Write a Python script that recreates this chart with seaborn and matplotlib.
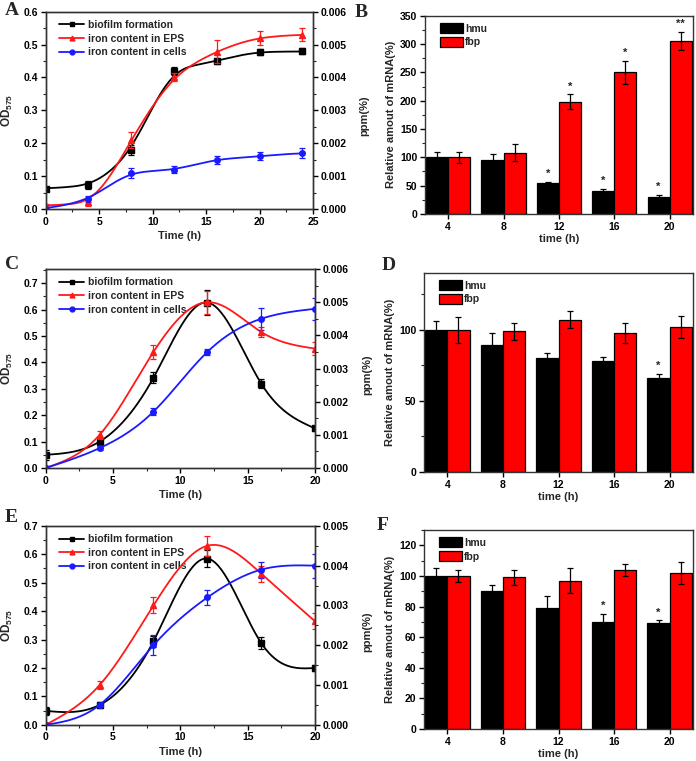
import numpy as np
import pandas as pd
import matplotlib
matplotlib.use("Agg")
import matplotlib.pyplot as plt
from matplotlib.lines import Line2D
from matplotlib.ticker import AutoMinorLocator, FormatStrFormatter
import seaborn as sns

# ---------------- data ----------------
# A
a_time = [0, 4, 8, 12, 16, 20, 24]
a_biofilm = [0.062, 0.073, 0.18, 0.42, 0.45, 0.477, 0.479]
a_biofilm_err = [0.004, 0.012, 0.015, 0.013, 0.01, 0.01, 0.009]
a_eps = [0.0001, 0.0002, 0.0021, 0.0040, 0.00478, 0.0052, 0.0053]
a_eps_err = [0.00005, 0.0001, 0.00025, 0.00012, 0.00035, 0.0002, 0.0002]
a_cells = [0.0, 0.0003, 0.0011, 0.0012, 0.0015, 0.0016, 0.0017]
a_cells_err = [0.00005, 0.0001, 0.00015, 0.0001, 0.00012, 0.00012, 0.00015]

# C
c_time = [0, 4, 8, 12, 16, 20]
c_biofilm = [0.05, 0.10, 0.342, 0.627, 0.32, 0.15]
c_biofilm_err = [0.02, 0.008, 0.02, 0.047, 0.018, 0.008]
c_eps = [0.0, 0.001, 0.0035, 0.005, 0.0041, 0.0036]
c_eps_err = [0.00005, 0.00012, 0.0002, 0.00035, 0.00015, 0.0002]
c_cells = [0.0, 0.0006, 0.0017, 0.0035, 0.0045, 0.0048]
c_cells_err = [0.00003, 0.00005, 0.0001, 0.0001, 0.00033, 0.00033]

# E
e_time = [0, 4, 8, 12, 16, 20]
e_biofilm = [0.049, 0.07, 0.294, 0.585, 0.288, 0.2]
e_biofilm_err = [0.015, 0.012, 0.02, 0.03, 0.02, 0.012]
e_eps = [0.0, 0.001, 0.003, 0.0045, 0.0038, 0.0026]
e_eps_err = [0.00005, 0.0001, 0.0002, 0.00025, 0.0002, 0.0002]
e_cells = [0.0, 0.0005, 0.002, 0.0032, 0.0039, 0.004]
e_cells_err = [0.00003, 0.00005, 0.00025, 0.0002, 0.0002, 0.0003]

# bar panels
bar_times = ["4", "8", "12", "16", "20"]
genes = ["hmu", "fbp"]

b_hmu = [100, 96, 55, 40, 30]
b_hmu_err = [9, 9, 2, 4, 4]
b_fbp = [100, 108, 198, 250, 305]
b_fbp_err = [10, 15, 13, 20, 16]
b_hmu_sig = ["", "", "*", "*", "*"]
b_fbp_sig = ["", "", "*", "*", "**"]

d_hmu = [100, 89, 80, 78, 66]
d_hmu_err = [6, 9, 4, 3, 3]
d_fbp = [100, 99, 107, 98, 102]
d_fbp_err = [9, 6, 6, 7, 8]
d_hmu_sig = ["", "", "", "", "*"]
d_fbp_sig = ["", "", "", "", ""]

f_hmu = [100, 90, 79, 70, 69]
f_hmu_err = [5, 4, 8, 5, 2]
f_fbp = [100, 99, 97, 104, 102]
f_fbp_err = [4, 5, 8, 4, 7]
f_hmu_sig = ["", "", "", "*", "*"]
f_fbp_sig = ["", "", "", "", ""]

series_names = ["biofilm formation", "iron content in EPS", "iron content in cells"]
series_colors = ["black", "#ff1a1a", "#1a1aff"]
series_markers = ["s", "^", "o"]

# ---------------- style ----------------
sns.set_style("ticks")
plt.rcParams["font.family"] = ["Liberation Sans", "DejaVu Sans"]
plt.rcParams["font.weight"] = "bold"
plt.rcParams["axes.labelweight"] = "bold"
plt.rcParams["mathtext.fontset"] = "custom"
plt.rcParams["mathtext.bf"] = "Liberation Sans:bold"
plt.rcParams["mathtext.default"] = "bf"
plt.rcParams["axes.edgecolor"] = "#333333"
plt.rcParams["axes.linewidth"] = 1.0

W, H = 696, 761


def spline(x, y, n=300):
    # natural cubic spline through the points (drawing only)
    x = np.asarray(x, float)
    y = np.asarray(y, float)
    k = len(x)
    h = np.diff(x)
    A = np.zeros((k, k))
    r = np.zeros(k)
    A[0, 0] = A[-1, -1] = 1
    for i in range(1, k - 1):
        A[i, i - 1] = h[i - 1]
        A[i, i] = 2 * (h[i - 1] + h[i])
        A[i, i + 1] = h[i]
        r[i] = 3 * ((y[i + 1] - y[i]) / h[i] - (y[i] - y[i - 1]) / h[i - 1])
    c = np.linalg.solve(A, r)
    b = (y[1:] - y[:-1]) / h - h * (2 * c[:-1] + c[1:]) / 3
    d = (c[1:] - c[:-1]) / (3 * h)
    xs = np.linspace(x[0], x[-1], n)
    idx = np.clip(np.searchsorted(x, xs) - 1, 0, k - 2)
    dx = xs - x[idx]
    return xs, y[idx] + b[idx] * dx + c[idx] * dx**2 + d[idx] * dx**3


def pchip_soft(x, y, n=300, win=2.0):
    # monotone cubic through the points, then a light moving average (drawing only)
    x = np.asarray(x, float)
    y = np.asarray(y, float)
    h = np.diff(x)
    d = np.diff(y) / h
    m = np.zeros_like(y)
    for k in range(1, len(x) - 1):
        if d[k - 1] * d[k] > 0:
            w1 = 2 * h[k] + h[k - 1]
            w2 = h[k] + 2 * h[k - 1]
            m[k] = (w1 + w2) / (w1 / d[k - 1] + w2 / d[k])
    m[0] = d[0]
    m[-1] = d[-1] * 0.5
    xs = np.linspace(x[0], x[-1], n)
    idx = np.clip(np.searchsorted(x, xs) - 1, 0, len(x) - 2)
    t = (xs - x[idx]) / h[idx]
    ys = ((2 * t**3 - 3 * t**2 + 1) * y[idx] + (t**3 - 2 * t**2 + t) * h[idx] * m[idx]
          + (-2 * t**3 + 3 * t**2) * y[idx + 1] + (t**3 - t**2) * h[idx] * m[idx + 1])
    step = xs[1] - xs[0]
    w = max(1, int(win / step))
    pad = np.concatenate([np.full(w, ys[0]), ys, np.full(w, ys[-1])])
    kern = np.ones(2 * w + 1) / (2 * w + 1)
    return xs, np.convolve(pad, kern, mode="valid")


def style_ticks(ax, fs=7.5):
    ax.tick_params(direction="out", length=3.5, width=1, labelsize=fs,
                   colors="black", pad=2)
    ax.tick_params(which="minor", direction="out", length=2, width=0.8)
    for lab in ax.get_xticklabels() + ax.get_yticklabels():
        lab.set_fontweight("bold")


def letter(x, y, s):
    fig.text(x / W, 1 - y / H, s, fontsize=14, fontweight="bold",
             family="Liberation Serif", va="top", ha="left")


def line_panel(rect, time, biofilm, biofilm_err, eps, eps_err, cells, cells_err,
               xmax, xticks, ymax_left, yticks_left, ymax_right, yticks_right, curve):
    ax = fig.add_axes(rect)
    ax2 = ax.twinx()
    # biofilm on left axis
    xs, ys = curve(time, biofilm)
    sns.lineplot(x=xs, y=ys, ax=ax, color=series_colors[0], lw=1.3, legend=False)
    ax.errorbar(time, biofilm, yerr=biofilm_err, fmt=series_markers[0], ms=4,
                color=series_colors[0], capsize=2.2, elinewidth=0.9, capthick=0.9)
    # iron on right axis
    for vals, errs, col, mk in [(eps, eps_err, series_colors[1], series_markers[1]),
                                (cells, cells_err, series_colors[2], series_markers[2])]:
        xs, ys = curve(time, vals)
        sns.lineplot(x=xs, y=ys, ax=ax2, color=col, lw=1.3, legend=False)
        ax2.errorbar(time, vals, yerr=errs, fmt=mk, ms=4, color=col,
                     capsize=2.2, elinewidth=0.9, capthick=0.9)
    ax.set_xlim(0, xmax)
    ax.set_xticks(xticks)
    ax.set_ylim(0, ymax_left)
    ax.set_yticks(yticks_left)
    ax2.set_ylim(0, ymax_right)
    ax2.set_yticks(yticks_right)
    ax.yaxis.set_major_formatter(FormatStrFormatter("%.1f"))
    ax2.yaxis.set_major_formatter(FormatStrFormatter("%.3f"))
    ax.xaxis.set_minor_locator(AutoMinorLocator(2))
    ax.yaxis.set_minor_locator(AutoMinorLocator(2))
    ax2.yaxis.set_minor_locator(AutoMinorLocator(2))
    style_ticks(ax)
    style_ticks(ax2)
    ax.set_xlabel("Time (h)", fontsize=8, fontweight="bold", labelpad=3)
    ax.set_ylabel(r"OD$_{575}$", fontsize=8.5, fontweight="bold")
    ax.yaxis.set_label_coords(-0.115, 0.5)
    ax2.set_ylabel("ppm(%)", fontsize=8, fontweight="bold")
    ax2.yaxis.set_label_coords(1.175, 0.47)
    handles = [Line2D([0], [0], color=c, marker=m, ms=3.5, lw=1.3)
               for c, m in zip(series_colors, series_markers)]
    leg = ax.legend(handles, series_names, loc="upper left", frameon=False,
                    fontsize=7.5, handlelength=2.4, handletextpad=0.3,
                    labelspacing=0.35, borderaxespad=0.4, bbox_to_anchor=(0.02, 1.0))
    for t in leg.get_texts():
        t.set_fontweight("bold")
    return ax


def bar_panel(rect, hmu, hmu_err, fbp, fbp_err, hmu_sig, fbp_sig, ymax, yticks):
    ax = fig.add_axes(rect)
    df = pd.DataFrame({
        "time": bar_times * 2,
        "gene": [genes[0]] * len(bar_times) + [genes[1]] * len(bar_times),
        "value": list(hmu) + list(fbp),
    })
    sns.barplot(data=df, x="time", y="value", hue="gene", order=bar_times,
                hue_order=genes, palette={"hmu": "black", "fbp": "#ff0000"},
                saturation=1, errorbar=None, width=0.8, edgecolor="black",
                linewidth=0.9, ax=ax)
    for cont, errs, sigs in zip(ax.containers, [hmu_err, fbp_err], [hmu_sig, fbp_sig]):
        for bar, e, s in zip(cont, errs, sigs):
            cx = bar.get_x() + bar.get_width() / 2
            h = bar.get_height()
            ax.errorbar(cx, h, yerr=e, fmt="none", ecolor="black",
                        elinewidth=0.9, capsize=2.5, capthick=0.9)
            if s:
                ax.text(cx, h + e + ymax * 0.015, s, ha="center", va="bottom",
                        fontsize=8, fontweight="bold")
    ax.set_xlim(-0.42, 4.42)
    ax.set_ylim(0, ymax)
    ax.set_yticks(yticks)
    ax.yaxis.set_minor_locator(AutoMinorLocator(2))
    for sp in ax.spines.values():
        sp.set_visible(True)
    style_ticks(ax)
    ax.set_xlabel("time (h)", fontsize=8, fontweight="bold", labelpad=2)
    ax.set_ylabel("Relative amout of mRNA(%)", fontsize=8, fontweight="bold", labelpad=3)
    leg = ax.legend(loc="upper left", frameon=False, fontsize=7.5, title=None,
                    handlelength=2.2, handleheight=1.1, handletextpad=0.2,
                    labelspacing=0.3, borderaxespad=0.3, bbox_to_anchor=(0.03, 1.0))
    for t in leg.get_texts():
        t.set_fontweight("bold")
    return ax


fig = plt.figure(figsize=(6.96, 7.61), dpi=100)

line_panel([0.0657, 0.7254, 0.384, 0.2593], a_time, a_biofilm, a_biofilm_err,
           a_eps, a_eps_err, a_cells, a_cells_err,
           25, [0, 5, 10, 15, 20, 25], 0.6, np.arange(0, 0.61, 0.1),
           0.006, np.arange(0, 0.0061, 0.001), pchip_soft)
line_panel([0.0657, 0.385, 0.387, 0.2615], c_time, c_biofilm, c_biofilm_err,
           c_eps, c_eps_err, c_cells, c_cells_err,
           20, [0, 5, 10, 15, 20], 0.754, np.arange(0, 0.71, 0.1),
           0.006, np.arange(0, 0.0061, 0.001), spline)
line_panel([0.0657, 0.0475, 0.387, 0.2615], e_time, e_biofilm, e_biofilm_err,
           e_eps, e_eps_err, e_cells, e_cells_err,
           20, [0, 5, 10, 15, 20], 0.7, np.arange(0, 0.71, 0.1),
           0.005, np.arange(0, 0.0051, 0.001), spline)

bar_panel([0.6106, 0.7188, 0.385, 0.2606], b_hmu, b_hmu_err, b_fbp, b_fbp_err,
          b_hmu_sig, b_fbp_sig, 350, np.arange(0, 351, 50))
bar_panel([0.6092, 0.3798, 0.3865, 0.2615], d_hmu, d_hmu_err, d_fbp, d_fbp_err,
          d_hmu_sig, d_fbp_sig, 140, [0, 50, 100])
bar_panel([0.6092, 0.0420, 0.3865, 0.2615], f_hmu, f_hmu_err, f_fbp, f_fbp_err,
          f_hmu_sig, f_fbp_sig, 130, np.arange(0, 121, 20))

letter(5, 2, "A")
letter(355, 4, "B")
letter(5, 256, "C")
letter(382, 257, "D")
letter(5, 509, "E")
letter(377, 517, "F")

fig.savefig("out.png", dpi=100)
